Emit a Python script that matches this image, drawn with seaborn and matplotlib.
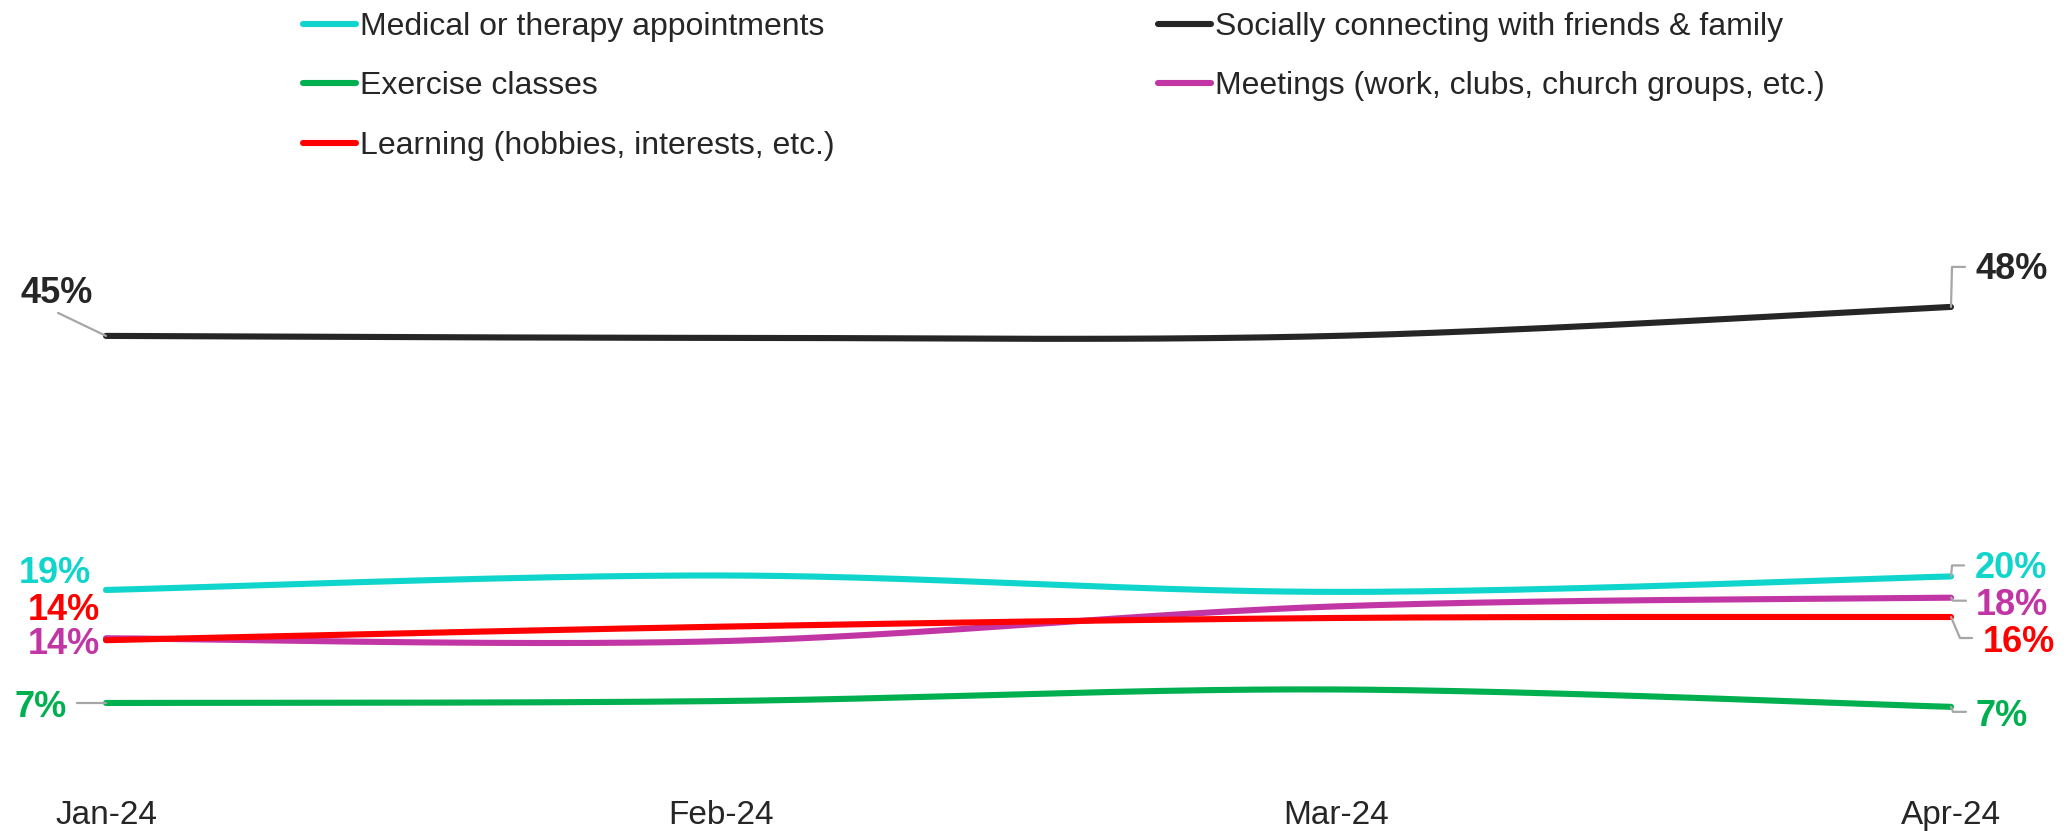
import numpy as np
import pandas as pd
import matplotlib
matplotlib.use("Agg")
import matplotlib.pyplot as plt
import seaborn as sns

# ---------------- data ----------------
months = ["Jan-24", "Feb-24", "Mar-24", "Apr-24"]
medical = [18.7, 20.2, 18.5, 20.1]
exercise = [7.0, 7.2, 8.4, 6.6]
learning = [13.5, 14.9, 15.8, 15.9]
social = [45.0, 44.8, 45.0, 48.0]
meetings = [13.7, 13.4, 17.0, 17.9]

series_names = [
    "Medical or therapy appointments",
    "Exercise classes",
    "Learning (hobbies, interests, etc.)",
    "Socially connecting with friends & family",
    "Meetings (work, clubs, church groups, etc.)",
]
series_values = [medical, exercise, learning, social, meetings]
colors = ["#10D5CC", "#00B050", "#FF0000", "#262626", "#C235A5"]

# label text: rounded start / end values
start_labels = [f"{int(v[0] + 0.5)}%" for v in series_values]
end_labels = [f"{int(v[-1] + 0.5)}%" for v in series_values]

# ---------------- styling/positions (pixels) ----------------
# (dx, dy_down) of text baseline-centre relative to the data point
start_text_off = [(-51, -7), (-65, 14), (-42, -20), (-49, -33), (-42, 16)]
end_text_off = [(60, 2), (51, 19), (68, 35), (61, -28), (61, 17)]
start_leader = [None, [(0, 0), (-29, 0)], None, [(0, 0), (-48, -23)], None]
end_leader = [
    [(0, 0), (1, -11), (13, -11)],
    [(0, 0), (2, 5), (15, 5)],
    [(0, 0), (9, 21), (21, 21)],
    [(0, 0), (1, -40), (14, -40)],
    [(0, 0), (2, 3), (15, 3)],
]


def smooth(y, n=60):
    """Excel-like smoothed curve (Catmull-Rom Bezier) through the points."""
    x = np.arange(len(y), dtype=float)
    P = np.column_stack([x, np.asarray(y, float)])
    ext = np.vstack([P[0], P, P[-1]])
    xs, ys = [], []
    t = np.linspace(0, 1, n)
    for i in range(len(P) - 1):
        p0, p1, p2, p3 = ext[i], ext[i + 1], ext[i + 2], ext[i + 3]
        c1 = p1 + (p2 - p0) / 6
        c2 = p2 - (p3 - p1) / 6
        b = (((1 - t) ** 3)[:, None] * p1 + (3 * (1 - t) ** 2 * t)[:, None] * c1
             + (3 * (1 - t) * t ** 2)[:, None] * c2 + (t ** 3)[:, None] * p2)
        if i > 0:
            b = b[1:]
        xs.append(b[:, 0]); ys.append(b[:, 1])
    return np.concatenate(xs), np.concatenate(ys)


rows = []
for name, vals in zip(series_names, series_values):
    sx, sy = smooth(vals)
    for a, b in zip(sx, sy):
        rows.append({"x": a, "y": b, "series": name})
df = pd.DataFrame(rows)

sns.set_theme(style="white")
plt.rcParams["font.family"] = ["Liberation Sans", "DejaVu Sans"]

W, H = 2070, 831
fig = plt.figure(figsize=(W / 100, H / 100), dpi=100)
ax = fig.add_axes([106 / W, (H - 770.6) / H, (1951 - 106) / W, 483 / H])

palette = dict(zip(series_names, colors))
sns.lineplot(data=df, x="x", y="y", hue="series", hue_order=series_names,
             palette=palette, sort=False, estimator=None, linewidth=4.4,
             ax=ax, legend=True)
for ln in ax.lines:
    ln.set_clip_on(False)
    ln.set_solid_capstyle("round")
ax.lines[2].set_zorder(3)

handles, labels = ax.get_legend_handles_labels()
ax.get_legend().remove()

ax.set_xlim(0, 3)
ax.set_ylim(0, 50)
ax.set_xticks(range(len(months)))
ax.set_xticklabels(months, fontsize=24, color="#262626")
ax.tick_params(axis="x", length=0, pad=21)
ax.set_yticks([])
ax.set_xlabel("")
ax.set_ylabel("")
for s in ax.spines.values():
    s.set_visible(False)

# legends (two columns placed separately)
leg_kw = dict(frameon=False, fontsize=23, handlelength=1.66, handletextpad=0.12,
              borderpad=0, borderaxespad=0, labelspacing=0.92, loc="upper left",
              labelcolor="#262626")
leg1 = fig.legend(handles[:3], labels[:3], bbox_to_anchor=(303 / W, 1 - 12 / H), **leg_kw)
leg2 = fig.legend(handles[3:], labels[3:], bbox_to_anchor=(1158 / W, 1 - 12 / H), **leg_kw)
for lg in (leg1, leg2):
    for h in lg.legend_handles:
        h.set_linewidth(4.4)
        h.set_solid_capstyle("round")

# data labels + leader lines
fig.canvas.draw()
for i, vals in enumerate(series_values):
    for idx, txt, toff, lead in ((0, start_labels[i], start_text_off[i], start_leader[i]),
                                 (len(vals) - 1, end_labels[i], end_text_off[i], end_leader[i])):
        px, py = ax.transData.transform((idx, vals[idx]))
        if lead is not None:
            lx = [px + dx for dx, dy in lead]
            ly = [py - dy for dx, dy in lead]
            fig.add_artist(plt.Line2D(lx, ly, transform=None, color="#A6A6A6",
                                      linewidth=1.6, zorder=1))
        fig.text(px + toff[0], py - toff[1], txt, transform=None, ha="center",
                 va="baseline", fontsize=26, fontweight="bold", color=colors[i])

fig.savefig("out.png", dpi=100, facecolor="white")
